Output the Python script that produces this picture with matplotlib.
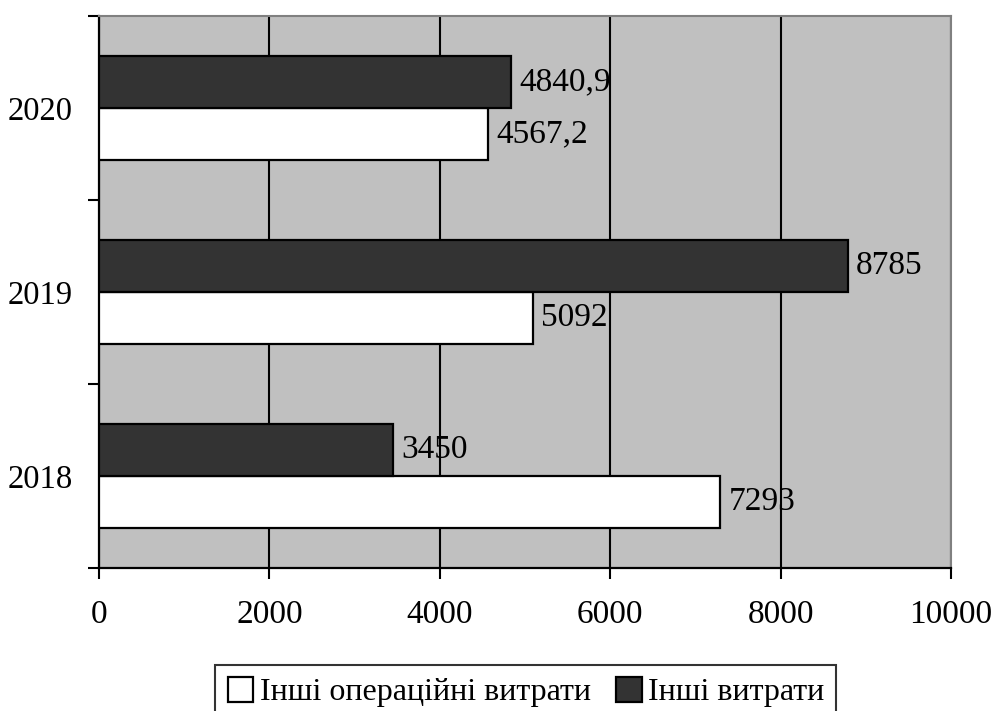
import matplotlib.pyplot as plt
import numpy as np
from matplotlib.ticker import FixedLocator

plt.rcParams['font.family'] = ['Liberation Serif', 'DejaVu Serif']

years = ['2018', '2019', '2020']
operating = [7293, 5092, 4567.2]
other = [3450, 8785, 4840.9]
labels_operating = ['7293', '5092', '4567,2']
labels_other = ['3450', '8785', '4840,9']

fig = plt.figure(figsize=(9.95, 7.11), dpi=100)
ax = fig.add_axes([0.0995, 0.2011, 0.8563, 0.7764])
ax.set_facecolor('#c0c0c0')

y = np.arange(len(years))
h = 0.283
ax.barh(y - h / 2, operating, height=h, color='white', edgecolor='black',
        linewidth=1.6, label='Інші операційні витрати', zorder=3)
ax.barh(y + h / 2, other, height=h, color='#333333', edgecolor='black',
        linewidth=1.6, label='Інші витрати', zorder=3)

for yi, v, t in zip(y - h / 2, operating, labels_operating):
    ax.annotate(t, (v, yi), xytext=(6, 0), textcoords='offset points',
                va='center', ha='left', fontsize=24, zorder=4)
for yi, v, t in zip(y + h / 2, other, labels_other):
    ax.annotate(t, (v, yi), xytext=(6, 0), textcoords='offset points',
                va='center', ha='left', fontsize=24, zorder=4)

ax.set_xlim(0, 10000)
ax.set_ylim(-0.5, 2.5)
ax.set_xticks(np.arange(0, 10001, 2000))
ax.xaxis.grid(True, color='black', linewidth=1.5, zorder=1)
ax.set_axisbelow(True)

# category labels sit between the boundary ticks
ax.yaxis.set_major_locator(FixedLocator([-0.5, 0.5, 1.5, 2.5]))
ax.yaxis.set_minor_locator(FixedLocator(y))
ax.set_yticklabels([], minor=False)
ax.set_yticklabels(years, minor=True)
ax.tick_params(axis='y', which='major', direction='out', length=8, width=1.5)
ax.tick_params(axis='y', which='minor', length=0, pad=19, labelsize=23.5)
ax.tick_params(axis='x', direction='out', length=8, width=1.5, pad=15, labelsize=24)

for s in ['left', 'bottom']:
    ax.spines[s].set_color('black')
    ax.spines[s].set_linewidth(1.6)
for s in ['top', 'right']:
    ax.spines[s].set_color('#808080')
    ax.spines[s].set_linewidth(1.5)

leg = fig.legend(loc='lower center', bbox_to_anchor=(0.5286, -0.012), ncol=2,
                 fontsize=23, frameon=True, fancybox=False, edgecolor='black',
                 handlelength=0.8, handleheight=0.8, handletextpad=0.2,
                 columnspacing=0.8, borderpad=0.38, borderaxespad=0)
leg.get_frame().set_linewidth(1.5)

fig.savefig('out.png', dpi=100, facecolor='white')
